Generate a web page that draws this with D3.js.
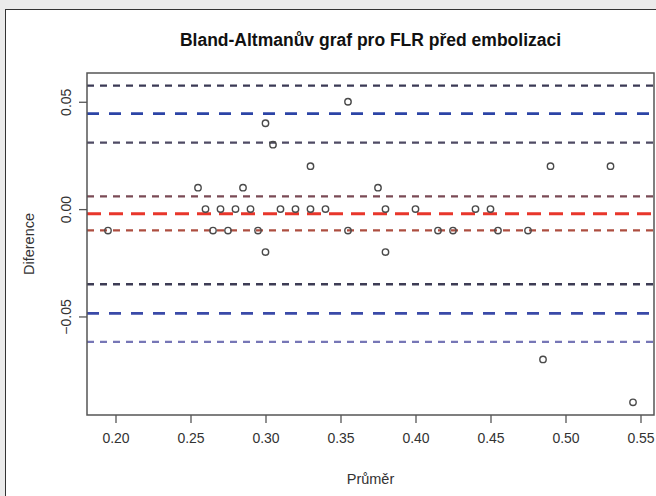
<!DOCTYPE html>
<html>
<head>
<meta charset="utf-8">
<script src="https://cdn.jsdelivr.net/npm/d3@7"></script>
<style>
  html, body { margin: 0; padding: 0; background: #ebebeb; }
  svg { display: block; }
  text { font-family: Arial, "Liberation Sans", sans-serif; }
</style>
</head>
<body>
<svg id="chart" width="656" height="496"></svg>
<script>
// Mean of the two measurements (x) and their difference (y) for each patient
const meanValues = [
  0.195, 0.255, 0.26, 0.265, 0.27, 0.275, 0.28, 0.285, 0.29, 0.295,
  0.30, 0.30, 0.305, 0.31, 0.32, 0.33, 0.33, 0.34, 0.355, 0.355,
  0.375, 0.38, 0.38, 0.40, 0.415, 0.425, 0.44, 0.45, 0.455, 0.475,
  0.485, 0.49, 0.53, 0.545
];
const diffValues = [
  -0.01, 0.01, 0.00, -0.01, 0.00, -0.01, 0.00, 0.01, 0.00, -0.01,
  0.04, -0.02, 0.03, 0.00, 0.00, 0.02, 0.00, 0.00, 0.05, -0.01,
  0.01, 0.00, -0.02, 0.00, -0.01, -0.01, 0.00, 0.00, -0.01, -0.01,
  -0.07, 0.02, 0.02, -0.09
];

// Horizontal reference lines: upper limit of agreement with its CI,
// mean difference with its CI, lower limit of agreement with its CI
const lineNames = ["upperLoaHi", "upperLoa", "upperLoaLo", "meanHi", "mean", "meanLo", "lowerLoaHi", "lowerLoa", "lowerLoaLo"];
const lineValues = [0.0575, 0.0445, 0.0310, 0.0059, -0.0022, -0.0099, -0.0350, -0.0486, -0.0618];

const xTicks = [0.20, 0.25, 0.30, 0.35, 0.40, 0.45, 0.50, 0.55];
const yTicks = [-0.05, 0.00, 0.05];

const titleText = "Bland-Altmanův graf pro FLR před embolizaci";
const xLabel = "Průměr";
const yLabel = "Diference";

// Line appearance, keyed by line name
const lineStyle = {
  upperLoaHi: { color: "#3b3a55", width: 2.3, dash: "7,6" },
  upperLoa:   { color: "#2c44a6", width: 2.8, dash: "12,10" },
  upperLoaLo: { color: "#4f4b64", width: 2.3, dash: "7,6" },
  meanHi:     { color: "#7a4a55", width: 2.2, dash: "7,6" },
  mean:       { color: "#e8362b", width: 3.0, dash: "14,8" },
  meanLo:     { color: "#ad4e40", width: 2.2, dash: "7,6" },
  lowerLoaHi: { color: "#3d3c55", width: 2.3, dash: "7,6" },
  lowerLoa:   { color: "#3a4aa8", width: 2.8, dash: "12,10" },
  lowerLoaLo: { color: "#7676b6", width: 2.3, dash: "7,6" }
};

const svg = d3.select("#chart");

// White figure panel with thin dark frame
svg.append("rect")
  .attr("x", 5.5).attr("y", 9.5)
  .attr("width", 700).attr("height", 600)
  .attr("fill", "#ffffff").attr("stroke", "#333333").attr("stroke-width", 1);

const plot = { left: 87, right: 654, top: 73, bottom: 415 };

// Axis ranges extended by 4% like base R graphics
const pad = (lo, hi) => { const d = (hi - lo) * 0.04; return [lo - d, hi + d]; };
const xDom = pad(d3.min(meanValues), d3.max(meanValues));
const yDom = pad(Math.min(d3.min(diffValues), d3.min(lineValues)),
                 Math.max(d3.max(diffValues), d3.max(lineValues)));

const x = d3.scaleLinear().domain(xDom).range([plot.left, plot.right]);
const y = d3.scaleLinear().domain(yDom).range([plot.bottom, plot.top]);

svg.append("defs").append("clipPath").attr("id", "plotClip")
  .append("rect")
  .attr("x", plot.left).attr("y", plot.top)
  .attr("width", plot.right - plot.left).attr("height", plot.bottom - plot.top);

// Reference lines
const linesG = svg.append("g").attr("clip-path", "url(#plotClip)");
linesG.selectAll("line")
  .data(lineValues.map((v, i) => ({ v, name: lineNames[i] })))
  .join("line")
  .attr("x1", plot.left).attr("x2", plot.right)
  .attr("y1", d => y(d.v)).attr("y2", d => y(d.v))
  .attr("stroke", d => lineStyle[d.name].color)
  .attr("stroke-width", d => lineStyle[d.name].width)
  .attr("stroke-dasharray", d => lineStyle[d.name].dash);

// Data points as open circles
svg.append("g")
  .selectAll("circle")
  .data(meanValues.map((m, i) => ({ m, d: diffValues[i] })))
  .join("circle")
  .attr("cx", d => x(d.m))
  .attr("cy", d => y(d.d))
  .attr("r", 3.2)
  .attr("fill", "none")
  .attr("stroke", "#4a4a4a")
  .attr("stroke-width", 1.4);

// Plot box
svg.append("rect")
  .attr("x", plot.left).attr("y", plot.top)
  .attr("width", plot.right - plot.left).attr("height", plot.bottom - plot.top)
  .attr("fill", "none").attr("stroke", "#555555").attr("stroke-width", 1.5);

// X axis
const xAxis = d3.axisBottom(x).tickValues(xTicks).tickFormat(d3.format(".2f"))
  .tickSize(8).tickPadding(10);
const gx = svg.append("g").attr("transform", `translate(0,${plot.bottom})`).call(xAxis);
gx.select(".domain").remove();
gx.selectAll(".tick line").attr("stroke", "#555555").attr("stroke-width", 1.3);
gx.selectAll(".tick text").attr("font-size", 14).attr("fill", "#333333")
  .attr("font-family", "Arial, 'Liberation Sans', sans-serif");

// Y axis with labels rotated parallel to the axis
const yAxis = d3.axisLeft(y).tickValues(yTicks).tickFormat(d3.format(".2f"))
  .tickSize(8).tickPadding(0);
const gy = svg.append("g").attr("transform", `translate(${plot.left},0)`).call(yAxis);
gy.select(".domain").remove();
gy.selectAll(".tick line").attr("stroke", "#555555").attr("stroke-width", 1.3);
gy.selectAll(".tick text")
  .attr("font-size", 14).attr("fill", "#333333")
  .attr("font-family", "Arial, 'Liberation Sans', sans-serif")
  .attr("x", null).attr("dy", null)
  .attr("text-anchor", "middle")
  .attr("transform", "translate(-16,0) rotate(-90)");

// Title and axis titles
svg.append("text")
  .attr("x", (plot.left + plot.right) / 2).attr("y", 46)
  .attr("text-anchor", "middle")
  .attr("font-size", 17.5).attr("font-weight", "bold").attr("fill", "#111111")
  .text(titleText);

svg.append("text")
  .attr("x", (plot.left + plot.right) / 2).attr("y", 484)
  .attr("text-anchor", "middle")
  .attr("font-size", 14.5).attr("fill", "#333333")
  .text(xLabel);

svg.append("text")
  .attr("transform", `translate(34,${(plot.top + plot.bottom) / 2}) rotate(-90)`)
  .attr("text-anchor", "middle")
  .attr("font-size", 14.5).attr("fill", "#333333")
  .text(yLabel);
</script>
</body>
</html>
